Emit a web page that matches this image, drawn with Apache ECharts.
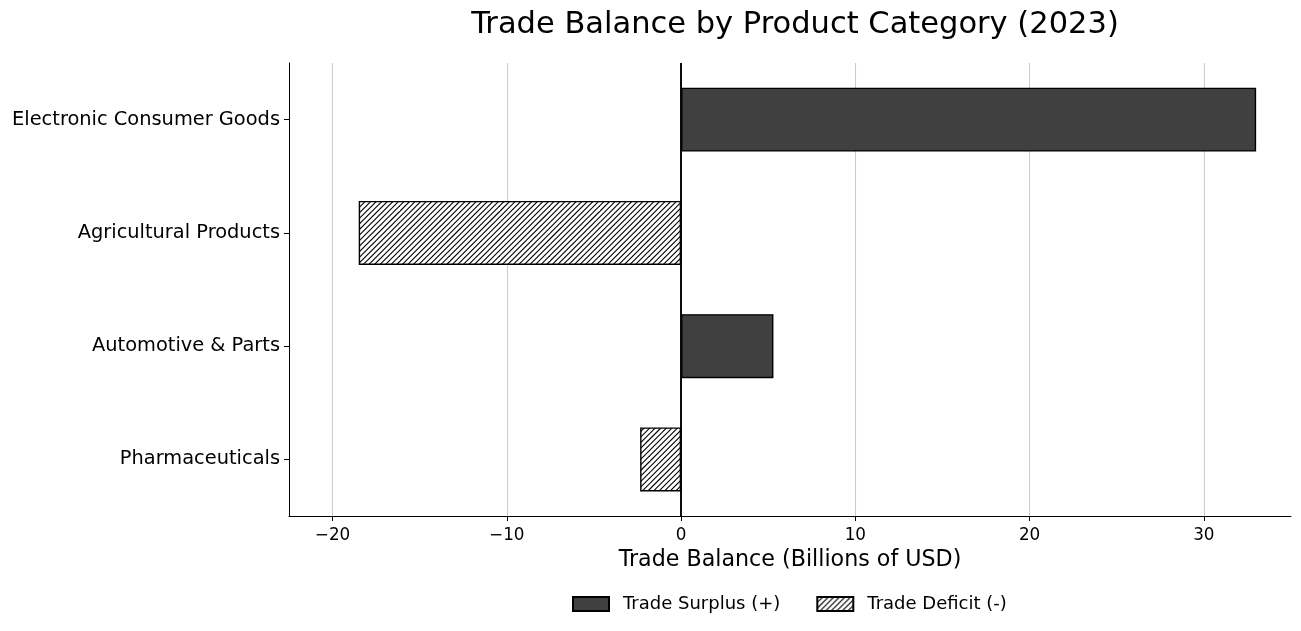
<!DOCTYPE html>
<html>
<head>
<meta charset="utf-8">
<script src="https://cdn.jsdelivr.net/npm/echarts@6/dist/echarts.min.js"></script>
<style>
html,body{margin:0;padding:0;background:#fff;}
#chart{width:1301px;height:631px;}
</style>
</head>
<body>
<div id="chart"></div>
<script>
const categories = ['Electronic Consumer Goods', 'Agricultural Products', 'Automotive & Parts', 'Pharmaceuticals'];
const surplusValues = [33.0, null, 5.3, null];
const deficitValues = [null, -18.5, null, -2.35];
const xTicks = [-20, -10, 0, 10, 20, 30];

function hatchPattern() {
  const c = document.createElement('canvas');
  const S = 50, n = 9, step = S / n;
  c.width = S; c.height = S;
  const ctx = c.getContext('2d');
  ctx.fillStyle = '#ffffff';
  ctx.fillRect(0, 0, S, S);
  ctx.strokeStyle = '#000000';
  ctx.lineWidth = 1.1;
  for (let k = -2; k <= 2 * n + 2; k++) {
    const cc = k * step;
    ctx.beginPath();
    ctx.moveTo(cc + 2, -2);
    ctx.lineTo(cc - S - 2, S + 2);
    ctx.stroke();
  }
  return c;
}

const font = 'DejaVu Sans';
const chart = echarts.init(document.getElementById('chart'), null, {renderer: 'canvas'});
chart.setOption({
  animation: false,
  backgroundColor: '#ffffff',
  title: {
    text: 'Trade Balance by Product Category (2023)',
    left: 790, top: 5, textAlign: 'center',
    textStyle: {fontFamily: font, fontSize: 30.5, fontWeight: 'normal', color: '#000'}
  },
  legend: {
    top: 590, left: 567,
    icon: 'rect', itemWidth: 36, itemHeight: 14, itemGap: 36,
    textStyle: {fontFamily: font, fontSize: 18, color: '#000', padding: [0, 0, 0, 9]},
    data: ['Trade Surplus (+)', 'Trade Deficit (-)']
  },
  grid: {left: 289, right: 10, top: 63, bottom: 115, containLabel: false},
  xAxis: {
    type: 'value', min: -22.5, max: 35,
    name: 'Trade Balance (Billions of USD)', nameLocation: 'middle', nameGap: 33,
    nameTextStyle: {fontFamily: font, fontSize: 22.2, color: '#000'},
    axisLine: {show: true, onZero: false, lineStyle: {color: '#000', width: 1}},
    axisTick: {show: true, customValues: xTicks, length: 5, lineStyle: {color: '#000'}},
    axisLabel: {
      customValues: xTicks, fontFamily: font, fontSize: 16.8, color: '#000', margin: 11,
      formatter: v => v < 0 ? '\u2212' + Math.abs(v) : String(v)
    },
    splitLine: {show: true, lineStyle: {color: '#cccccc', width: 1.1}}
  },
  yAxis: {
    type: 'category', data: categories, inverse: true,
    axisLine: {show: true, onZero: false, lineStyle: {color: '#000', width: 1}},
    axisTick: {show: true, alignWithLabel: true, length: 5, lineStyle: {color: '#000'}},
    axisLabel: {fontFamily: font, fontSize: 19.4, color: '#000', margin: 9},
    splitLine: {show: false}
  },
  series: [
    {
      name: 'Trade Surplus (+)', type: 'bar', data: surplusValues,
      barWidth: 64, barGap: '-100%',
      itemStyle: {color: '#404040', borderColor: '#000', borderWidth: 1.4}
    },
    {
      name: 'Trade Deficit (-)', type: 'bar', data: deficitValues,
      barWidth: 64, barGap: '-100%',
      itemStyle: {color: {image: hatchPattern(), repeat: 'repeat'}, borderColor: '#000', borderWidth: 1.4},
      markLine: {
        silent: true, symbol: 'none', label: {show: false},
        lineStyle: {color: '#000', width: 1.9, type: 'solid'},
        data: [{xAxis: 0}]
      }
    }
  ]
});
</script>
</body>
</html>
